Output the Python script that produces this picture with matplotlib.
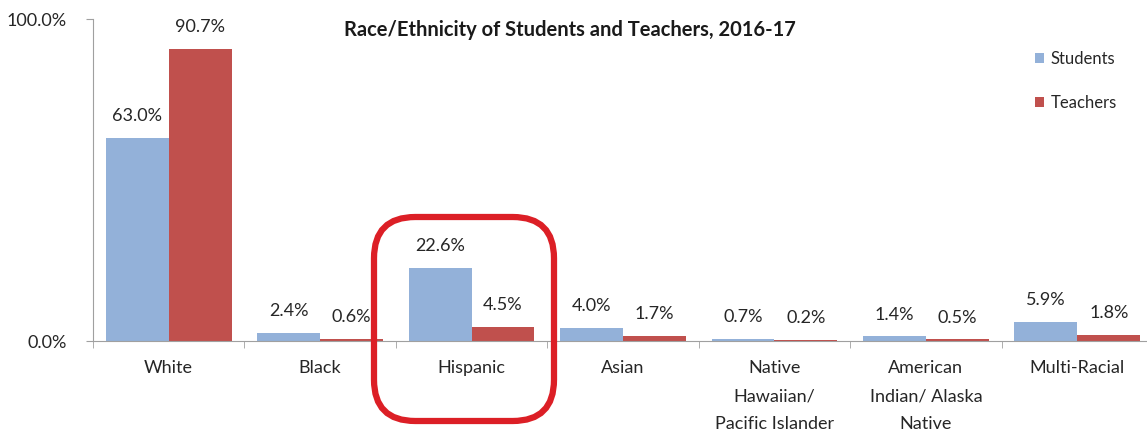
import numpy as np
import matplotlib
matplotlib.use('Agg')
import matplotlib.pyplot as plt
from matplotlib.patches import FancyBboxPatch

plt.rcParams['font.family'] = ['Lato', 'DejaVu Sans']

categories = ['White', 'Black', 'Hispanic', 'Asian',
              'Native\nHawaiian/\nPacific Islander',
              'American\nIndian/ Alaska\nNative', 'Multi-Racial']
students = [63.0, 2.4, 22.6, 4.0, 0.7, 1.4, 5.9]
teachers = [90.7, 0.6, 4.5, 1.7, 0.2, 0.5, 1.8]

blue = '#93b1d9'
red = '#c0504d'
txt = '#262626'
fs = 13

fig = plt.figure(figsize=(11.47, 4.34), dpi=100)
ax = fig.add_axes([93 / 1147, 93 / 434, 1060 / 1147, 322 / 434])

x = np.arange(len(categories))
w = 0.415
b1 = ax.bar(x - w / 2, students, w, color=blue, label='Students')
b2 = ax.bar(x + w / 2, teachers, w, color=red, label='Teachers')

for bars, vals in ((b1, students), (b2, teachers)):
    for bar, v in zip(bars, vals):
        ax.annotate(f'{v:.1f}%', (bar.get_x() + bar.get_width() / 2, v),
                    xytext=(0, 10), textcoords='offset points',
                    ha='center', va='bottom', fontsize=fs, color=txt)

ax.set_xlim(-0.5, len(categories) - 0.5)
ax.set_ylim(0, 100)
ax.set_yticks([0, 100])
ax.set_yticklabels(['0.0%', '100.0%'], fontsize=fs, color=txt)
ax.set_xticks(x)
ax.set_xticklabels(categories, fontsize=fs, color=txt, linespacing=1.9)
ax.set_xticks(np.arange(-0.5, len(categories), 1), minor=True)
ax.tick_params(axis='x', which='major', length=0, pad=14)
ax.tick_params(axis='x', which='minor', length=5, color='#a0a0a0', direction='out')
ax.tick_params(axis='y', length=5, color='#a0a0a0', pad=14)

for s in ['top', 'right']:
    ax.spines[s].set_visible(False)
ax.spines['left'].set_color('#a0a0a0')
ax.spines['bottom'].set_color('#a0a0a0')

fig.text(570 / 1147, 1 - 30 / 434, 'Race/Ethnicity of Students and Teachers, 2016-17',
         ha='center', va='center', fontsize=14.5, fontweight='bold', color='#1a1a1a')

ax.legend(loc='upper left', bbox_to_anchor=(1020 / 1147, 1 - 36 / 434),
          bbox_transform=fig.transFigure, frameon=False, fontsize=12,
          handlelength=0.55, handleheight=0.55, handletextpad=0.4,
          labelspacing=1.7, labelcolor=txt)

# highlight around Hispanic
box = FancyBboxPatch((374 / 1147, 1 - 421 / 434), 180 / 1147, 204 / 434,
                     boxstyle='round,pad=0,rounding_size=0.036',
                     transform=fig.transFigure, fill=False,
                     edgecolor='#dc1f26', linewidth=4.5, clip_on=False,
                     mutation_aspect=1147 / 434)
fig.patches.append(box)

fig.savefig('out.png', dpi=100)
